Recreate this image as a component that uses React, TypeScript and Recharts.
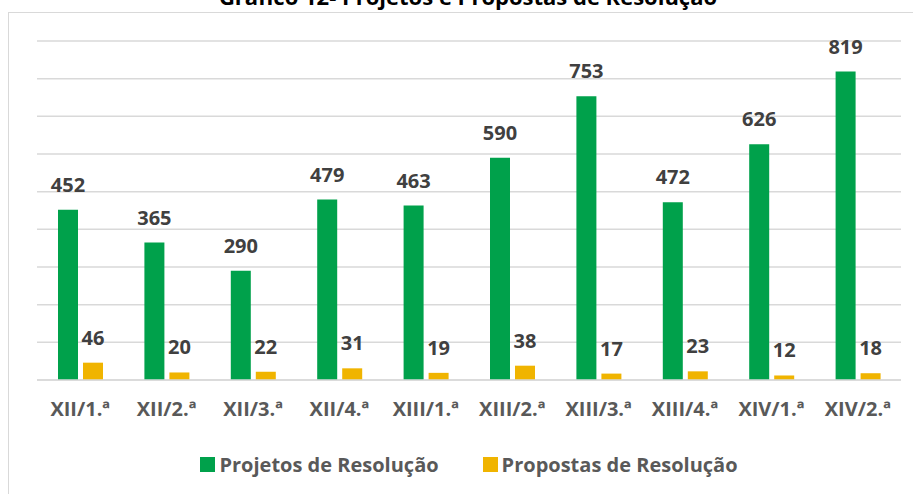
import React from "react";
import { BarChart, Bar, XAxis, YAxis, CartesianGrid, Legend, LabelList } from "recharts";

const categories = ["XII/1.ª", "XII/2.ª", "XII/3.ª", "XII/4.ª", "XIII/1.ª", "XIII/2.ª", "XIII/3.ª", "XIII/4.ª", "XIV/1.ª", "XIV/2.ª"];
const projetos = [452, 365, 290, 479, 463, 590, 753, 472, 626, 819];
const propostas = [46, 20, 22, 31, 19, 38, 17, 23, 12, 18];
const yTicks = [0, 100, 200, 300, 400, 500, 600, 700, 800, 900];
const title = "Gráfico 12- Projetos e Propostas de Resolução";
const seriesNames = ["Projetos de Resolução", "Propostas de Resolução"];

const data = categories.map((c, i) => ({ cat: c, projetos: projetos[i], propostas: propostas[i] }));

const GREEN = "#00A14B";
const YELLOW = "#F0B400";
const FONT = "'Open Sans', sans-serif";

const renderLegend = (props: any) => {
  const { payload } = props;
  return (
    <div style={{ height: 30 }}>
      <div style={{ position: "relative", top: 14, display: "flex", justifyContent: "center", alignItems: "center", gap: 44, fontFamily: FONT, fontWeight: 700, fontSize: 20, color: "#595959", height: 30 }}>
        {payload.map((p: any) => (
          <div key={p.value} style={{ display: "flex", alignItems: "center" }}>
            <div style={{ width: 15, height: 15, background: p.color, marginRight: 4 }} />
            <span>{p.value}</span>
          </div>
        ))}
      </div>
    </div>
  );
};

export default function App() {
  return (
    <div style={{ position: "absolute", left: 0, top: 0, width: 913, height: 494, overflow: "hidden", background: "#fff" }}>
      <div style={{ position: "absolute", left: 8, top: 12, width: 1000, height: 600, border: "1px solid #d9d9d9", boxSizing: "border-box" }} />
      <div style={{ position: "absolute", left: 0, width: 936, top: -15.5, textAlign: "center", fontFamily: FONT, fontWeight: 700, fontSize: 22, color: "#000", lineHeight: "22px", whiteSpace: "nowrap" }}>
        {title}
      </div>
      <div style={{ position: "absolute", left: 0, top: 0 }}>
        <BarChart width={913} height={494} data={data} margin={{ top: 41, right: 12, left: 37, bottom: 29 }} barGap={5} barSize={20}>
          <CartesianGrid vertical={false} stroke="#d9d9d9" strokeWidth={1.5} />
          <YAxis hide domain={[0, 900]} ticks={yTicks} />
          <XAxis dataKey="cat" axisLine={{ stroke: "#d9d9d9", strokeWidth: 1.5 }} tickLine={false} tickSize={0} tickMargin={22} height={55} interval={0}
            tick={{ fill: "#595959", fontFamily: FONT, fontWeight: 700, fontSize: 20 }} />
          <Legend verticalAlign="bottom" content={renderLegend} />
          <Bar dataKey="projetos" name={seriesNames[0]} fill={GREEN} isAnimationActive={false}>
            <LabelList dataKey="projetos" position="top" offset={18} style={{ fill: "#404040", fontFamily: FONT, fontWeight: 700, fontSize: 20 }} />
          </Bar>
          <Bar dataKey="propostas" name={seriesNames[1]} fill={YELLOW} isAnimationActive={false}>
            <LabelList dataKey="propostas" position="top" offset={18} style={{ fill: "#404040", fontFamily: FONT, fontWeight: 700, fontSize: 20 }} />
          </Bar>
        </BarChart>
      </div>
    </div>
  );
}
